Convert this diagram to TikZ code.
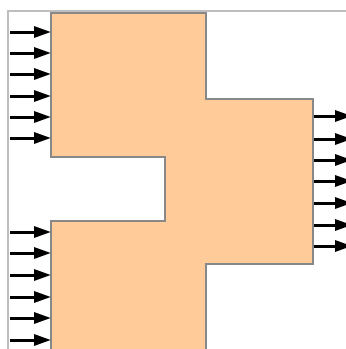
\documentclass[tikz,border=0pt]{standalone}
\usetikzlibrary{arrows.meta}
\definecolor{peach}{RGB}{255,204,153}
\definecolor{edgegray}{RGB}{136,136,136}
\definecolor{framegray}{RGB}{190,190,190}
\begin{document}
\begin{tikzpicture}[x=1pt,y=-1pt,
  blockline/.style={draw=edgegray,line width=2pt,fill=peach,line join=miter},
  frameline/.style={draw=framegray,line width=1.5pt},
  flowarrow/.style={line width=3pt,-{Triangle[length=17pt,width=11pt]}}]
\useasboundingbox (0,0) rectangle (346,349);
\clip (0,0) rectangle (346,349);
% light frame along the top and left
\draw[frameline] (346,11) -- (8,11) -- (8,352);
% the merged block outline
\draw[blockline] (51,13) -- (206,13) -- (206,99) -- (313,99) -- (313,264)
  -- (206,264) -- (206,360) -- (51,360) -- (51,221) -- (165,221)
  -- (165,157) -- (51,157) -- cycle;
% inputs on the upper part
\foreach \y [count=\i] in {32,53,74,96,117,138} {
  \coordinate (ua\i) at (10,\y);
  \coordinate (ub\i) at (51,\y);
  \draw[flowarrow] (ua\i) -- (ub\i);
}
% inputs on the lower part
\foreach \y [count=\i] in {232,253,275,297,318,340} {
  \coordinate (la\i) at (10,\y);
  \coordinate (lb\i) at (51,\y);
  \draw[flowarrow] (la\i) -- (lb\i);
}
% outputs on the right part
\foreach \y [count=\i] in {116,139,160,181,203,225,246} {
  \coordinate (ra\i) at (314,\y);
  \coordinate (rb\i) at (352,\y);
  \draw[flowarrow] (ra\i) -- (rb\i);
}
\end{tikzpicture}
\end{document}
